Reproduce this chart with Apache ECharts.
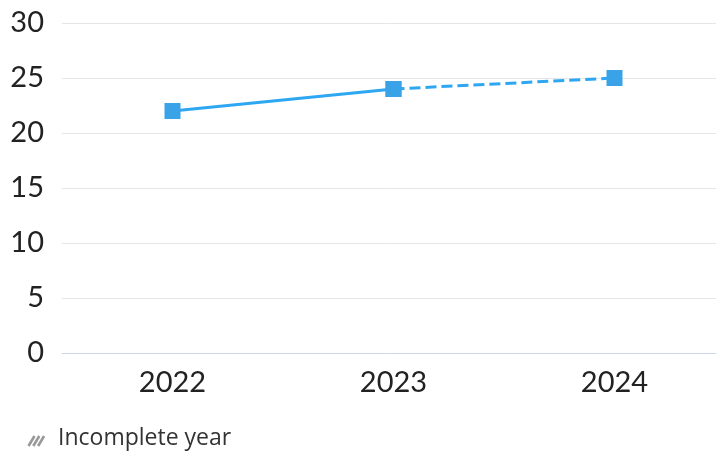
<!DOCTYPE html>
<html>
<head>
<meta charset="utf-8">
<script src="https://cdn.jsdelivr.net/npm/echarts@6/dist/echarts.min.js"></script>
<style>
html,body{margin:0;padding:0;background:#fff;}
#chart{width:716px;height:452px;}
</style>
</head>
<body>
<div id="chart"></div>
<script>
const categories = ['2022', '2023', '2024'];
const completeValues = [22, 24, null];
const incompleteValues = [null, 24, 25];
const yTicks = { min: 0, max: 30, interval: 5 };
const legendLabel = 'Incomplete year';

const FONT = 'Lato';
const chart = echarts.init(document.getElementById('chart'), null, { renderer: 'canvas' });
const lineColor = '#2ea7f2';
const markerColor = '#3aa3e8';

const hatch = [];
for (let i = 0; i < 3; i++) {
  hatch.push({
    type: 'line',
    shape: { x1: 28.5 + i * 4.8, y1: 446, x2: 34.5 + i * 4.8, y2: 436 },
    style: { stroke: '#999', lineWidth: 2.6 }
  });
}

chart.setOption({
  animation: false,
  grid: { left: 62, top: 23, width: 663, height: 330, containLabel: false, outerBoundsMode: 'none' },
  xAxis: {
    type: 'category',
    data: categories,
    boundaryGap: true,
    axisLine: { show: true, lineStyle: { color: '#ccd6eb', width: 1 } },
    axisTick: { show: false },
    axisLabel: { color: '#222', fontFamily: FONT, fontSize: 29, margin: 15 }
  },
  yAxis: {
    type: 'value',
    min: yTicks.min, max: yTicks.max, interval: yTicks.interval,
    axisLine: { show: false },
    axisTick: { show: false },
    splitLine: { lineStyle: { color: '#e6e6e6', width: 1 } },
    axisLabel: { color: '#222', fontFamily: FONT, fontSize: 29, margin: 18 }
  },
  series: [
    {
      type: 'line', data: completeValues,
      symbol: 'rect', symbolSize: 16, showAllSymbol: true,
      lineStyle: { color: lineColor, width: 3 },
      itemStyle: { color: markerColor },
      z: 3
    },
    {
      type: 'line', data: incompleteValues,
      symbol: 'rect', symbolSize: 16, showAllSymbol: true,
      lineStyle: { color: lineColor, width: 3, type: [11, 5] },
      itemStyle: { color: markerColor },
      z: 2
    }
  ],
  graphic: hatch.concat([
    {
      type: 'text', left: 58, top: 427,
      style: { text: legendLabel, fill: '#333', font: '23px "Open Sans"' }
    }
  ])
});
</script>
</body>
</html>
